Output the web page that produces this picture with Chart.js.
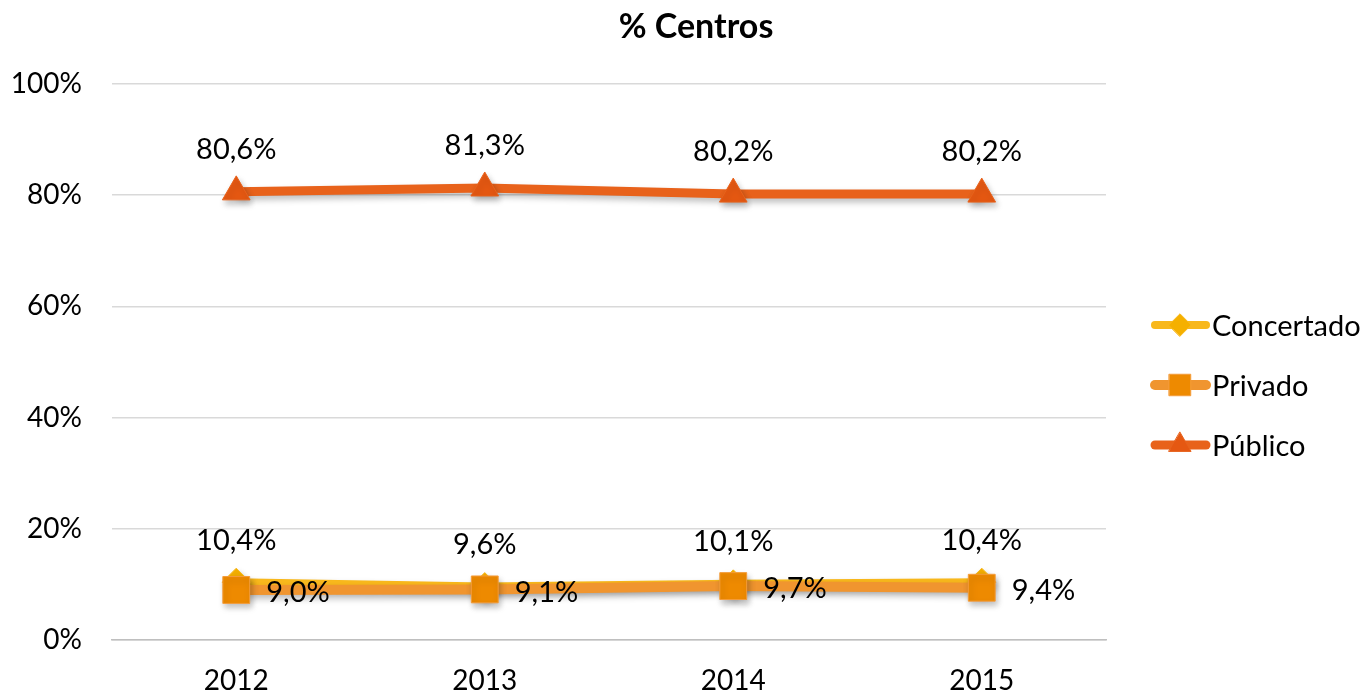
<!DOCTYPE html>
<html>
<head>
<meta charset="utf-8">
<script src="https://cdn.jsdelivr.net/npm/chart.js@4/dist/chart.umd.min.js"></script>
<style>
  html, body { margin: 0; padding: 0; background: #fff; }
  #wrap { width: 1366px; height: 694px; position: relative; }
</style>
</head>
<body>
<div id="wrap"><canvas id="chart" width="1366" height="694"></canvas></div>
<script>
const years = ['2012', '2013', '2014', '2015'];
const concertado = [10.4, 9.6, 10.1, 10.4];
const privado = [9.0, 9.1, 9.7, 9.4];
const publico = [80.6, 81.3, 80.2, 80.2];
const yTicks = [0, 20, 40, 60, 80, 100];

const FONT = 'Lato, "Open Sans", sans-serif';

const formatPct = (v) => v.toFixed(1).replace('.', ',') + '%';

// label side per dataset: above or right of the point
const labelSide = ['top', 'right', 'top'];

const labelsPlugin = {
  id: 'pointLabels',
  afterDatasetsDraw(chart) {
    const { ctx } = chart;
    ctx.save();
    ctx.font = `29px ${FONT}`;
    ctx.fillStyle = '#000';
    ctx.textBaseline = 'middle';
    chart.data.datasets.forEach((ds, i) => {
      const meta = chart.getDatasetMeta(i);
      meta.data.forEach((pt, j) => {
        const text = formatPct(ds.data[j]);
        if (labelSide[i] === 'right') {
          ctx.textAlign = 'left';
          ctx.fillText(text, pt.x + 30, pt.y + 3);
        } else {
          ctx.textAlign = 'center';
          ctx.fillText(text, pt.x, pt.y - 42);
        }
      });
    });
    ctx.restore();
  }
};

const legendPlugin = {
  id: 'sideLegend',
  afterDraw(chart) {
    const { ctx } = chart;
    ctx.save();
    const rows = [325, 385, 445];
    chart.data.datasets.forEach((ds, i) => {
      const y = rows[i];
      ctx.strokeStyle = ds.borderColor;
      ctx.lineWidth = ds.borderWidth;
      ctx.lineCap = 'round';
      ctx.beginPath();
      ctx.moveTo(1155, y);
      ctx.lineTo(1206, y);
      ctx.stroke();
      ctx.fillStyle = ds.pointBackgroundColor;
      ctx.strokeStyle = ds.pointBorderColor;
      ctx.lineWidth = 1;
      Chart.helpers.drawPoint(ctx, {
        pointStyle: ds.pointStyle,
        radius: ds.pointRadius * 0.8,
        rotation: 0,
        borderWidth: 1
      }, 1180, y);
      ctx.fillStyle = '#000';
      ctx.font = `29px ${FONT}`;
      ctx.textAlign = 'left';
      ctx.textBaseline = 'middle';
      ctx.fillText(ds.label, 1212, y + 2);
    });
    ctx.restore();
  }
};

const titlePlugin = {
  id: 'topTitle',
  afterDraw(chart) {
    const { ctx } = chart;
    ctx.save();
    ctx.font = `bold 34px ${FONT}`;
    ctx.fillStyle = '#000';
    ctx.textAlign = 'center';
    ctx.textBaseline = 'middle';
    ctx.fillText('% Centros', 696, 27);
    ctx.restore();
  }
};

const shadowPlugin = {
  id: 'shadow',
  beforeDatasetsDraw(chart) {
    const { ctx } = chart;
    ctx.save();
    ctx.shadowColor = 'rgba(0,0,0,0.25)';
    ctx.shadowBlur = 6;
    ctx.shadowOffsetX = 2;
    ctx.shadowOffsetY = 4;
  },
  afterDatasetsDraw(chart) {
    chart.ctx.restore();
  }
};

new Chart(document.getElementById('chart'), {
  type: 'line',
  data: {
    labels: years,
    datasets: [
      {
        label: 'Concertado',
        data: concertado,
        order: 3,
        borderColor: '#F8B81C',
        borderWidth: 8,
        pointStyle: 'rectRot',
        pointRadius: 14,
        pointBackgroundColor: '#F5B000',
        pointBorderColor: '#F8B81C',
        pointBorderWidth: 1,
        tension: 0
      },
      {
        label: 'Privado',
        data: privado,
        order: 2,
        borderColor: '#F0952F',
        borderWidth: 10,
        pointStyle: 'rect',
        pointRadius: 19,
        pointBackgroundColor: '#EE8A00',
        pointBorderColor: '#F49C3A',
        pointBorderWidth: 1,
        tension: 0
      },
      {
        label: 'Público',
        data: publico,
        order: 1,
        borderColor: '#E8621B',
        borderWidth: 9,
        pointStyle: 'triangle',
        pointRadius: 16,
        pointBackgroundColor: '#E55812',
        pointBorderColor: '#E8621B',
        pointBorderWidth: 1,
        tension: 0
      }
    ]
  },
  options: {
    responsive: false,
    animation: false,
    layout: { padding: { top: 84, right: 260, left: 0, bottom: 0 } },
    plugins: {
      legend: { display: false },
      title: { display: false },
      tooltip: { enabled: false }
    },
    scales: {
      x: {
        offset: true,
        grid: { display: false, drawTicks: false },
        border: { color: '#BFBFBF', width: 1.5 },
        ticks: { color: '#000', font: { family: FONT, size: 28 }, padding: 24 },
        afterFit(scale) { scale.height = 54; }
      },
      y: {
        min: 0,
        max: 100,
        afterBuildTicks(scale) { scale.ticks = yTicks.map((v) => ({ value: v })); },
        grid: { color: '#D9D9D9', lineWidth: 1.5, drawTicks: false },
        border: { display: false },
        ticks: {
          color: '#000',
          font: { family: FONT, size: 28 },
          padding: 30,
          callback: (v) => v + '%'
        },
        afterFit(scale) { scale.width = 112; }
      }
    }
  },
  plugins: [shadowPlugin, labelsPlugin, legendPlugin, titlePlugin]
});
</script>
</body>
</html>
